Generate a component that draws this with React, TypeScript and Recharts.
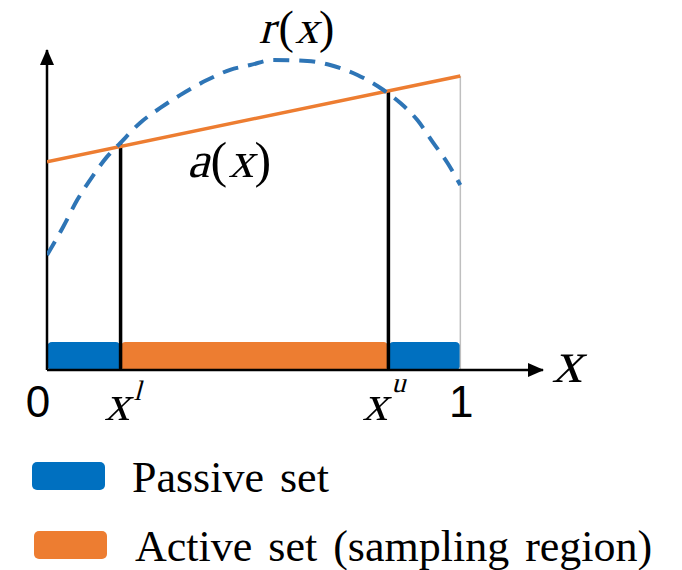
import React from "react";
import {
  ComposedChart,
  Line,
  XAxis,
  YAxis,
  ReferenceArea,
  ReferenceLine,
  ReferenceDot,
  Rectangle,
} from "recharts";

// r(x): dashed reward curve
const rX = [0, 0.039, 0.073, 0.109, 0.145, 0.177, 0.225, 0.274, 0.322, 0.387, 0.443, 0.492, 0.547, 0.63, 0.685, 0.751, 0.814, 0.855, 0.896, 0.935, 0.969, 1];
const rY = [0.359, 0.447, 0.531, 0.603, 0.666, 0.709, 0.772, 0.819, 0.859, 0.906, 0.938, 0.953, 0.969, 0.966, 0.953, 0.922, 0.875, 0.834, 0.781, 0.709, 0.647, 0.578];

// a(x): straight acquisition line
const aX = [0, 1];
const aY = [0.651, 0.919];

// interval bounds x^l, x^u and where the verticals stop
const bounds = [0.178, 0.826];
const boundTops = [0.709, 0.875];

// bar segments along the axis
const segStart = [0, 0.178, 0.826];
const segEnd = [0.178, 0.826, 1];
const segKind = ["passive", "active", "passive"];

const xTicks = [0, 0.178, 0.826, 1];
const tickBase = ["0", "x", "x", "1"];
const tickSup = ["", "l", "u", ""];

const legendNames = ["Passive set", "Active set (sampling region)"];
const legendKinds = ["passive", "active"];

const BLUE_FILL = "#0070C0";
const ORANGE = "#ED7D31";
const BLUE_LINE = "#2E75B6";
const SERIF = "'Liberation Serif', 'Times New Roman', serif";
const SANS = "'Liberation Sans', Arial, sans-serif";
const BAR_H = 0.0875;

const fills: Record<string, string> = { passive: BLUE_FILL, active: ORANGE };

const rData = rX.map((x, i) => ({ x, r: rY[i] }));
const aData = aX.map((x, i) => ({ x, a: aY[i] }));

const serif = { fontFamily: SERIF, fontStyle: "normal" as const };

// the serif italic face is not installed, so slant the upright one
function Slanted({ x, y, size, children }: { x: number; y: number; size: number; children: string }) {
  return (
    <text transform={`translate(${x},${y}) skewX(-15)`} style={serif} fontSize={size} fill="#000">
      {children}
    </text>
  );
}

function Upright({ x, y, size, children }: { x: number; y: number; size: number; children: string }) {
  return (
    <text x={x} y={y} style={serif} fontSize={size} fill="#000">
      {children}
    </text>
  );
}

function Tick(props: any) {
  const { x, y, index } = props;
  const base = tickBase[index];
  const sup = tickSup[index];
  if (!sup) {
    return (
      <text x={x + (index === 0 ? -9 : 1)} y={y + 47} textAnchor="middle" style={{ fontFamily: SANS }} fontSize={44} fill="#000">
        {base}
      </text>
    );
  }
  const dx = sup === "l" ? -16 : -26;
  return (
    <g>
      <Slanted x={x + dx} y={y + 50} size={50}>{base}</Slanted>
      <Slanted x={x + dx + 29} y={y + (sup === "l" ? 30 : 22)} size={28}>{sup}</Slanted>
    </g>
  );
}

const glyphW: Record<string, number> = { r: 0.43, a: 0.47, "(": 0.36, x: 0.52, ")": 0.36 };

function MathLabel({ cx, cy, fn, size }: { cx: number; cy: number; fn: string; size: number }) {
  const parts = [fn, "(", "x", ")"];
  let off = 0;
  return (
    <g>
      {parts.map((ch, i) => {
        const px = cx + off;
        off += glyphW[ch] * size;
        return i % 2 === 0 ? (
          <Slanted key={i} x={px} y={cy} size={size}>{ch}</Slanted>
        ) : (
          <Upright key={i} x={px} y={cy} size={size}>{ch}</Upright>
        );
      })}
    </g>
  );
}

function Legend2() {
  return (
    <svg width={682} height={130} style={{ position: "absolute", left: 0, top: 440 }}>
      {legendNames.map((name, i) => (
        <g key={name}>
          <rect x={32 + i * 2} y={22 + i * 69} width={73} height={28} rx={5} fill={fills[legendKinds[i]]} />
          <text x={132 + i * 3} y={52 + i * 69} style={serif} fontSize={44} fill="#000" wordSpacing={5}>
            {name}
          </text>
        </g>
      ))}
    </svg>
  );
}

export default function App() {
  return (
    <div style={{ position: "absolute", left: 0, top: 0, width: 682, height: 570, background: "#fff" }}>
      <ComposedChart width={682} height={570} margin={{ top: 50, right: 139, bottom: 140, left: 47 }}>
        <defs>
          <marker id="arrowHead" markerWidth={16} markerHeight={14} refX={15} refY={7} orient="auto" markerUnits="userSpaceOnUse">
            <path d="M0,0 L16,7 L0,14 Z" fill="#000" />
          </marker>
        </defs>
        <XAxis
          type="number"
          dataKey="x"
          domain={[0, 1.2]}
          ticks={xTicks}
          height={60}
          tickLine={false}
          tickSize={0}
          tickMargin={0}
          tick={<Tick />}
          axisLine={{ stroke: "#000", strokeWidth: 2.5, markerEnd: "url(#arrowHead)" }}
          allowDataOverflow
        />
        <YAxis type="number" domain={[0, 1]} hide />
        <ReferenceLine
          segment={[{ x: 0, y: 0 }, { x: 0, y: 1 }]}
          stroke="#000"
          strokeWidth={2.5}
          markerEnd="url(#arrowHead)"
          ifOverflow="visible"
        />
        <ReferenceLine segment={[{ x: 1, y: 0 }, { x: 1, y: aY[1] }]} stroke="#bfbfbf" strokeWidth={1.5} />
        {segStart.map((s, i) => (
          <ReferenceArea
            key={i}
            x1={s}
            x2={segEnd[i]}
            y1={0}
            y2={BAR_H}
            fill={fills[segKind[i]]}
            fillOpacity={1}
            stroke="none"
            shape={(p: any) => <Rectangle {...p} radius={5} />}
          />
        ))}
        {bounds.map((b, i) => (
          <ReferenceLine key={b} segment={[{ x: b, y: 0 }, { x: b, y: boundTops[i] }]} stroke="#000" strokeWidth={3.5} />
        ))}
        <Line data={aData} dataKey="a" type="linear" stroke={ORANGE} strokeWidth={3.5} dot={false} isAnimationActive={false} />
        <Line
          data={rData}
          dataKey="r"
          type="monotone"
          stroke={BLUE_LINE}
          strokeWidth={4}
          strokeDasharray="16 10"
          dot={false}
          isAnimationActive={false}
        />
        <ReferenceDot x={0.512} y={1.022} ifOverflow="visible" shape={(p: any) => <MathLabel cx={p.cx} cy={p.cy} fn="r" size={46} />} />
        <ReferenceDot x={0.339} y={0.603} ifOverflow="visible" shape={(p: any) => <MathLabel cx={p.cx} cy={p.cy} fn="a" size={50} />} />
        <ReferenceDot
          x={1.222}
          y={-0.0375}
          ifOverflow="visible"
          shape={(p: any) => <Slanted x={p.cx} y={p.cy} size={60}>x</Slanted>}
        />
      </ComposedChart>
      <Legend2 />
    </div>
  );
}
